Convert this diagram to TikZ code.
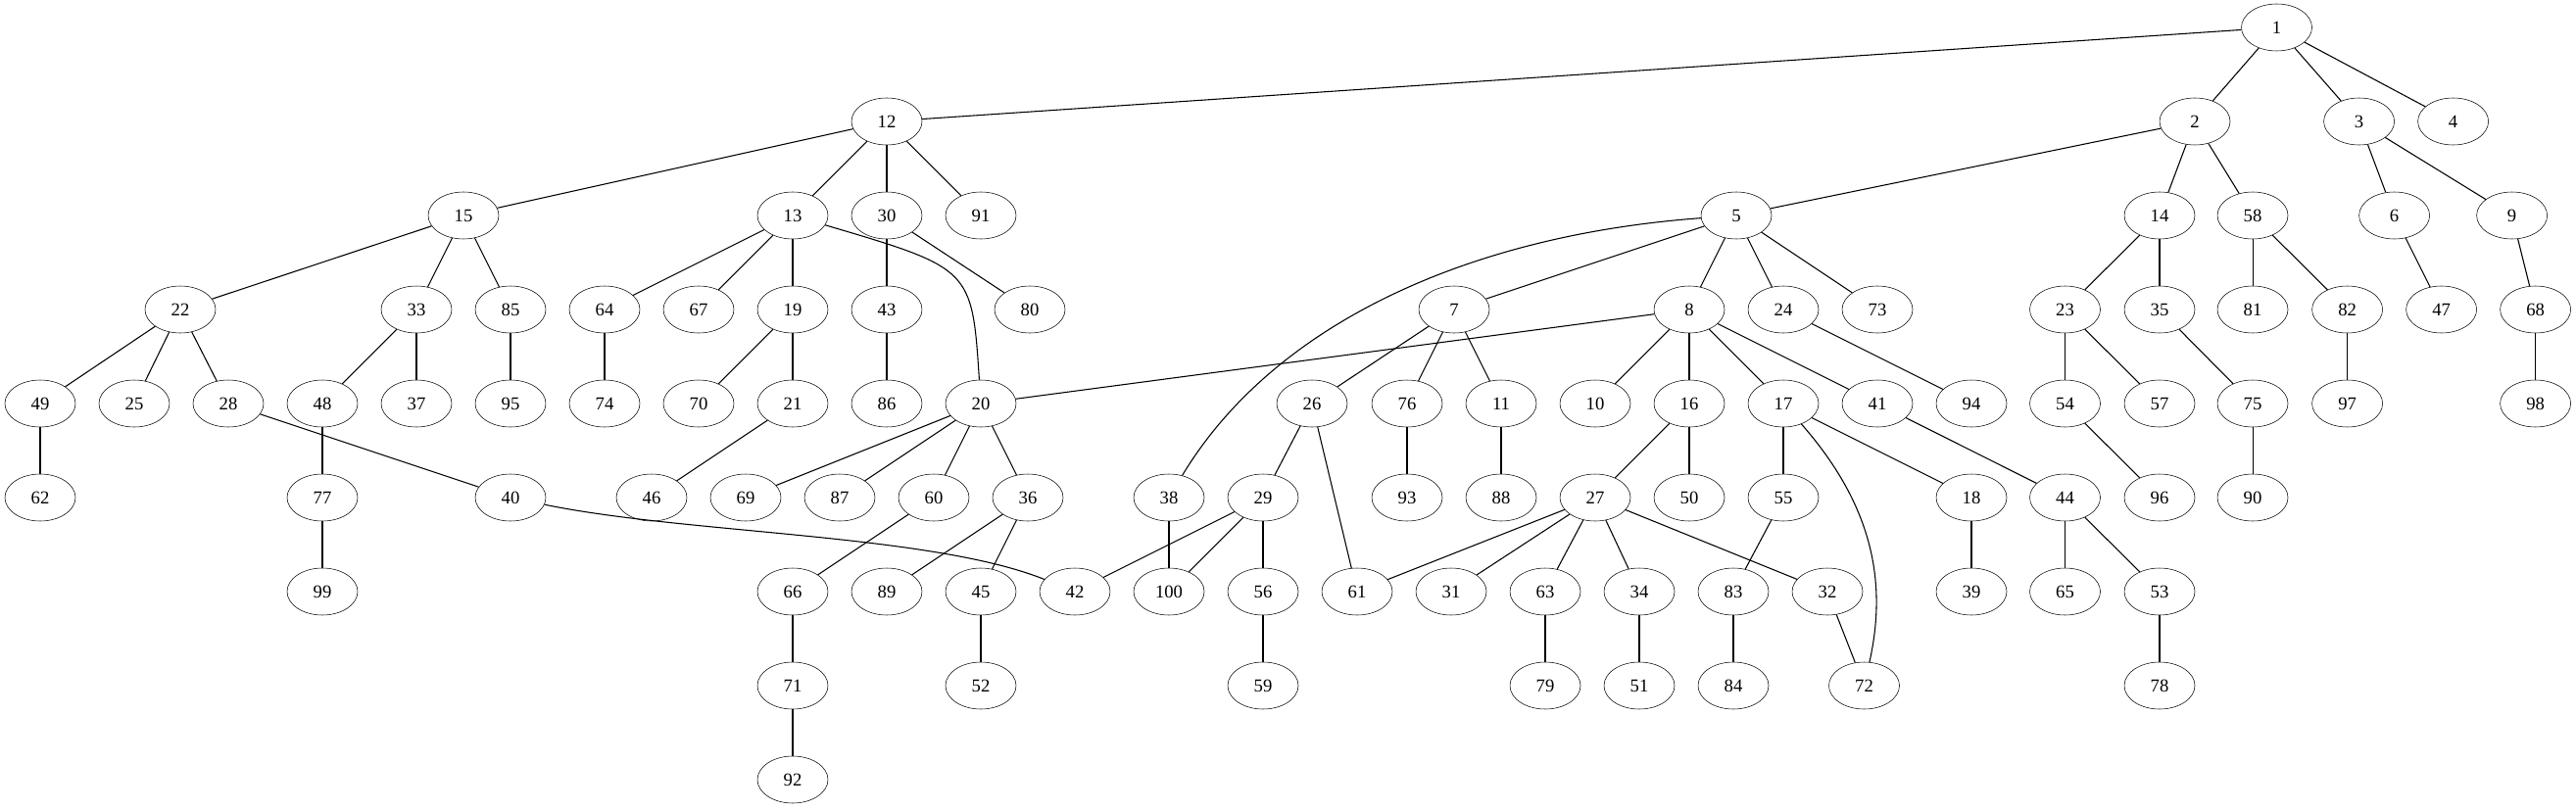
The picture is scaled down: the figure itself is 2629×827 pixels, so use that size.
\documentclass[tikz,border=0pt]{standalone}
\usepackage{fontspec}
\setmainfont{Liberation Serif}
\usetikzlibrary{shapes}
\tikzset{
  vertex/.style = {draw, ellipse, minimum width=54pt, minimum height=36pt, inner sep=1pt,
    font=\fontsize{14pt}{17pt}\selectfont},
  link/.style = {line width=0.8pt}
}

\begin{document}
\begin{tikzpicture}[x=0.75pt, y=-0.75pt]
    \useasboundingbox (0,0) rectangle (2629,827);

    %% Nodes, one rank per row

    % Rank 0 and 1
    \node[vertex] (n1) at (2323.5,28) {1};
    \foreach \n/\x in {12/905, 2/2240, 3/2407.6, 4/2503.6}
        \node[vertex] (n\n) at (\x,124) {\n};

    % Rank 2
    \foreach \n/\x in {15/473, 13/809, 30/905, 91/1001, 5/1772, 14/2204, 58/2299, 6/2443.6, 9/2563.6}
        \node[vertex] (n\n) at (\x,220) {\n};

    % Rank 3
    \foreach \n/\x in {22/184, 33/425, 85/521, 64/617, 67/713, 19/809, 43/905, 80/1051,
        7/1484, 8/1724, 24/1820, 73/1916, 23/2107.5, 35/2204, 81/2299, 82/2395.6, 47/2491.6, 68/2587.6}
        \node[vertex] (n\n) at (\x,316) {\n};

    % Rank 4
    \foreach \n/\x in {49/41, 25/137, 28/233, 48/329, 37/425, 95/521, 74/617, 70/713, 21/809,
        86/905, 20/1001, 26/1339, 76/1436, 11/1532, 10/1628, 16/1724, 17/1820, 41/1916,
        94/2012, 54/2107.5, 57/2204, 75/2299, 97/2395.6, 98/2587.6}
        \node[vertex] (n\n) at (\x,412) {\n};

    % Rank 5
    \foreach \n/\x in {62/41, 77/329, 40/521, 46/665, 69/761, 87/857, 60/953, 36/1049, 38/1193,
        29/1289, 93/1436, 88/1532, 27/1628, 50/1724, 55/1820, 18/2012, 44/2107.5, 96/2204, 90/2299}
        \node[vertex] (n\n) at (\x,508) {\n};

    % Rank 6
    \foreach \n/\x in {99/329, 66/809, 89/905, 45/1001, 42/1097, 100/1193, 56/1289, 61/1385,
        31/1481, 63/1577, 34/1673, 83/1769, 32/1865, 39/2012, 65/2107.5, 53/2204}
        \node[vertex] (n\n) at (\x,604) {\n};

    % Rank 7 and 8
    \foreach \n/\x in {71/809, 52/1001, 59/1289, 79/1577, 51/1673, 84/1769, 72/1902.5, 78/2204}
        \node[vertex] (n\n) at (\x,700) {\n};
    \node[vertex] (n92) at (809,796) {92};

    %% Edges

    % Straight ones
    \foreach \a/\b in {1/12, 1/2, 1/3, 1/4, 12/15, 12/13, 12/30, 12/91, 2/5, 2/14, 2/58, 3/6, 3/9,
        15/22, 15/33, 15/85, 13/64, 13/67, 13/19, 30/43, 30/80, 5/7, 5/8, 5/24, 5/73,
        14/23, 14/35, 58/81, 58/82, 6/47, 9/68, 22/49, 22/25, 22/28, 33/48, 33/37, 85/95,
        64/74, 19/70, 19/21, 43/86, 7/26, 7/76, 7/11, 8/20, 8/10, 8/16, 8/17, 8/41, 24/94,
        23/54, 23/57, 35/75, 82/97, 68/98, 49/62, 28/40, 48/77, 21/46, 20/69, 20/87, 20/60,
        20/36, 26/29, 26/61, 76/93, 11/88, 16/27, 16/50, 17/55, 17/18, 41/44, 54/96, 75/90,
        77/99, 60/66, 36/89, 36/45, 38/100, 29/42, 29/100, 29/56, 27/61, 27/31, 27/63,
        27/34, 27/32, 55/83, 18/39, 44/65, 44/53, 66/71, 45/52, 56/59, 63/79, 34/51,
        83/84, 32/72, 53/78, 71/92}
        \draw[link] (n\a) -- (n\b);

    % Curved ones
    \draw[link] (n13) .. controls (992,274) .. (n20);
    \draw[link] (n5) .. controls (1500,240) and (1300,330) .. (n38);
    \draw[link] (n17) .. controls (1915,520) and (1925,600) .. (n72);
    \draw[link] (n40) .. controls (700,545) and (950,545) .. (n42);

\end{tikzpicture}
\end{document}
